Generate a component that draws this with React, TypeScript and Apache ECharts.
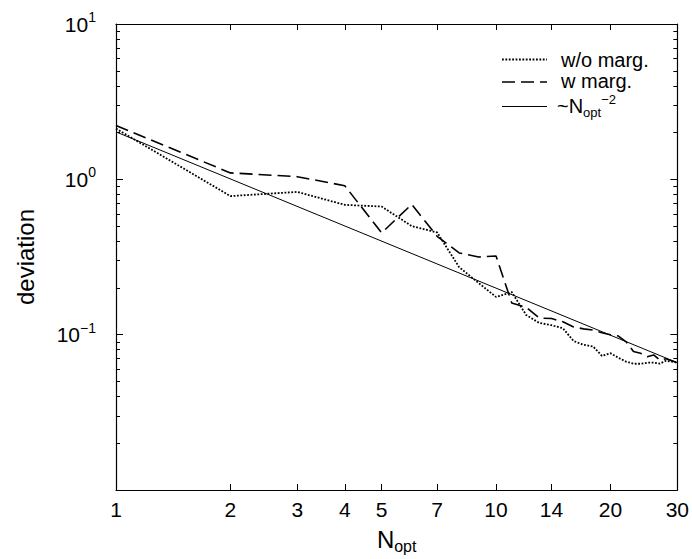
import React, { useEffect, useRef } from "react";
import * as echarts from "echarts";

// ---- data ----
const nOpt = [
  1, 2, 3, 4, 5, 6, 7, 8, 9, 10, 11, 12, 13, 14, 15, 16, 17, 18, 19, 20, 21,
  22, 23, 24, 25, 26, 27, 28, 29, 30,
];
const woMarg = [
  2.12, 0.78, 0.83, 0.685, 0.668, 0.5, 0.455, 0.272, 0.215, 0.175, 0.188,
  0.134, 0.119, 0.115, 0.11, 0.091, 0.086, 0.084, 0.073, 0.076, 0.071, 0.067,
  0.065, 0.065, 0.066, 0.066, 0.065, 0.068, 0.067, 0.066,
];
const wMarg = [
  2.22, 1.1, 1.04, 0.91, 0.452, 0.69, 0.43, 0.336, 0.316, 0.321, 0.16, 0.15,
  0.128, 0.127, 0.121, 0.112, 0.109, 0.107, 0.103, 0.1, 0.098, 0.09, 0.078,
  0.076, 0.072, 0.074, 0.0685, 0.07, 0.068, 0.066,
];
const powerLawN = [1, 30];
const powerLawY = [2.02, 0.066];

const xTicks = [1, 2, 3, 4, 5, 7, 10, 14, 20, 30];
const yMajorTicks = [0.01, 0.1, 1, 10];
const yLabelValues = [0.1, 1, 10];
const yMinorTicks = [
  0.02, 0.03, 0.04, 0.05, 0.06, 0.07, 0.08, 0.09, 0.2, 0.3, 0.4, 0.5, 0.6,
  0.7, 0.8, 0.9, 2, 3, 4, 5, 6, 7, 8, 9,
];
const seriesNames = ["w/o marg.", "w marg.", "~N_opt^-2"];

const FONT = "'Liberation Sans', Arial, Helvetica, sans-serif";
const DOT = [1.8, 1.6];
const DASH = [13, 6];

export default function App() {
  const ref = useRef<HTMLDivElement>(null);

  useEffect(() => {
    if (!ref.current) return;
    const chart = echarts.init(ref.current, null, { renderer: "svg" });

    const axisLine = { show: true, onZero: false, lineStyle: { color: "#000", width: 1.2 } };
    const tick = (vals: number[], len: number) => ({
      show: true,
      inside: true,
      length: len,
      customValues: vals,
      lineStyle: { color: "#000", width: 1 },
    });

    const baseX = { type: "log", logBase: 10, min: 1, max: 30, splitLine: { show: false }, minorTick: { show: false } };
    const baseY = { type: "log", logBase: 10, min: 0.01, max: 10, splitLine: { show: false }, minorTick: { show: false } };

    const option: any = {
      animation: false,
      backgroundColor: "#fff",
      grid: { left: 116, right: 13, top: 24, bottom: 69, containLabel: false },
      xAxis: [
        {
          ...baseX,
          position: "bottom",
          axisLine,
          axisTick: tick(xTicks, 6),
          axisLabel: {
            customValues: xTicks,
            margin: 9,
            color: "#000",
            fontSize: 21,
            fontFamily: FONT,
            formatter: (v: number) => String(Math.round(v)),
          },
          name: "{n|N}{s|opt}",
          nameLocation: "middle",
          nameGap: 34,
          nameTextStyle: {
            color: "#000",
            fontFamily: FONT,
            rich: {
              n: { fontSize: 24, fontFamily: FONT, color: "#000", lineHeight: 30, verticalAlign: "middle" },
              s: { fontSize: 16, fontFamily: FONT, color: "#000", lineHeight: 18, verticalAlign: "bottom" },
            },
          },
        },
        {
          ...baseX,
          position: "top",
          axisLine,
          axisTick: tick(xTicks, 6),
          axisLabel: { show: false },
        },
      ],
      yAxis: [
        {
          ...baseY,
          position: "left",
          axisLine,
          axisTick: tick(yMajorTicks, 7),
          axisLabel: {
            customValues: yLabelValues,
            margin: 20,
            color: "#000",
            fontFamily: FONT,
            formatter: (v: number) => {
              const e = Math.round(Math.log10(v));
              return "{b|10}{p|" + (e < 0 ? "\u2212" + -e : String(e)) + "}";
            },
            rich: {
              b: { fontSize: 21, fontFamily: FONT, color: "#000", lineHeight: 28, verticalAlign: "middle" },
              p: { fontSize: 14, fontFamily: FONT, color: "#000", lineHeight: 16, verticalAlign: "top" },
            },
          },
          name: "deviation",
          nameLocation: "middle",
          nameGap: 79,
          nameTextStyle: { color: "#000", fontFamily: FONT, fontSize: 24 },
        },
        {
          ...baseY,
          position: "left",
          axisLine: { show: false },
          axisTick: tick(yMinorTicks, 4),
          axisLabel: { show: false },
        },
        {
          ...baseY,
          position: "right",
          axisLine,
          axisTick: tick(yMajorTicks, 7),
          axisLabel: { show: false },
        },
        {
          ...baseY,
          position: "right",
          axisLine: { show: false },
          axisTick: tick(yMinorTicks, 4),
          axisLabel: { show: false },
        },
      ],
      series: [
        {
          type: "line",
          name: seriesNames[0],
          xAxisIndex: 0,
          yAxisIndex: 0,
          data: nOpt.map((n, i) => [n, woMarg[i]]),
          symbol: "none",
          silent: true,
          lineStyle: { color: "#000", width: 1.8, type: DOT },
        },
        {
          type: "line",
          name: seriesNames[1],
          xAxisIndex: 0,
          yAxisIndex: 0,
          data: nOpt.map((n, i) => [n, wMarg[i]]),
          symbol: "none",
          silent: true,
          lineStyle: { color: "#000", width: 1.6, type: DASH },
        },
        {
          type: "line",
          name: seriesNames[2],
          xAxisIndex: 0,
          yAxisIndex: 0,
          data: powerLawN.map((n, i) => [n, powerLawY[i]]),
          symbol: "none",
          silent: true,
          lineStyle: { color: "#000", width: 1 },
        },
      ],
      graphic: [
        { type: "line", shape: { x1: 502, y1: 59.5, x2: 547, y2: 59.5 }, style: { stroke: "#000", lineWidth: 1.8, lineDash: DOT }, silent: true },
        { type: "line", shape: { x1: 502, y1: 82, x2: 547, y2: 82 }, style: { stroke: "#000", lineWidth: 1.6, lineDash: DASH }, silent: true },
        { type: "line", shape: { x1: 502, y1: 106.5, x2: 547, y2: 106.5 }, style: { stroke: "#000", lineWidth: 1 }, silent: true },
        {
          type: "text",
          x: 561,
          y: 60,
          style: { text: seriesNames[0], fill: "#000", fontSize: 20, fontFamily: FONT, verticalAlign: "middle", textVerticalAlign: "middle" },
          silent: true,
        },
        {
          type: "text",
          x: 561,
          y: 81,
          style: { text: seriesNames[1], fill: "#000", fontSize: 20, fontFamily: FONT, verticalAlign: "middle", textVerticalAlign: "middle" },
          silent: true,
        },
        {
          type: "text",
          x: 557,
          y: 106,
          style: {
            text: "{n|~N}{s|opt}{p|\u22122}",
            fill: "#000",
            fontFamily: FONT,
            verticalAlign: "middle",
            textVerticalAlign: "middle",
            rich: {
              n: { fontSize: 20, fontFamily: FONT, fill: "#000", lineHeight: 26, verticalAlign: "middle" },
              s: { fontSize: 13, fontFamily: FONT, fill: "#000", lineHeight: 14, verticalAlign: "bottom" },
              p: { fontSize: 13, fontFamily: FONT, fill: "#000", lineHeight: 14, verticalAlign: "top" },
            },
          },
          silent: true,
        },
      ],
    };

    chart.setOption(option);
    return () => chart.dispose();
  }, []);

  return (
    <div
      ref={ref}
      style={{ position: "fixed", left: 0, top: 0, width: 692, height: 559, background: "#fff" }}
    />
  );
}
